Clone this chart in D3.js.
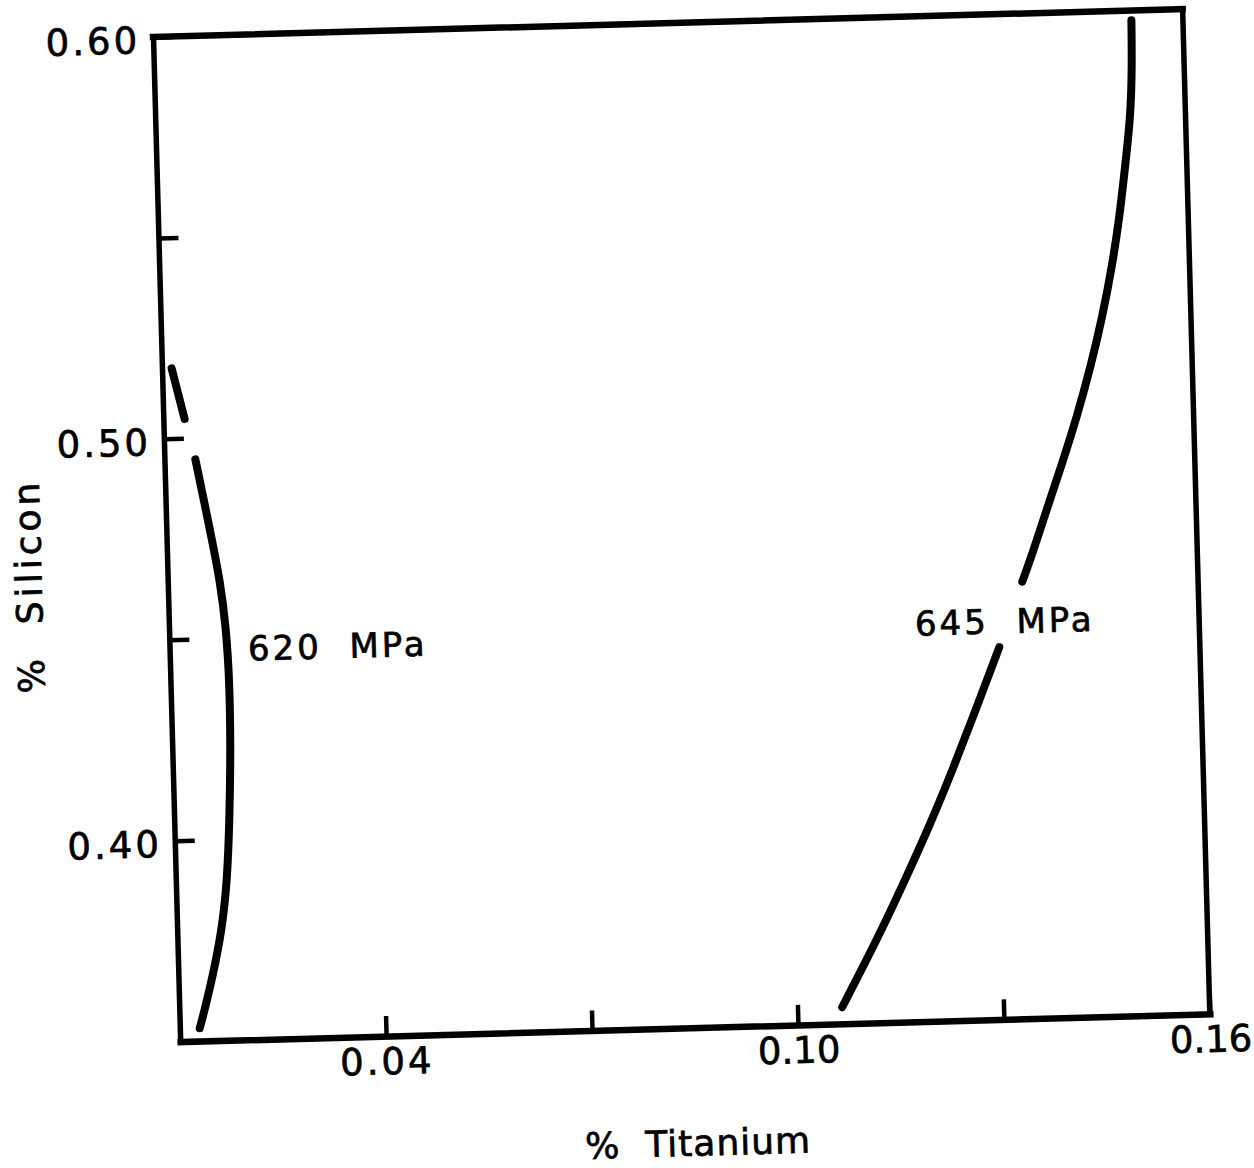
<!DOCTYPE html>
<html>
<head>
<meta charset="utf-8">
<script src="https://cdn.jsdelivr.net/npm/d3@7"></script>
<style>
  body { margin: 0; background: #fff; }
  text { font-family: "DejaVu Sans", sans-serif; fill: #000; stroke: #000; stroke-width: 0.7px; }
</style>
</head>
<body>
<div id="chart"></div>
<script>
"use-strict";

// axis setup
const tiDomain = [0.01, 0.16];
const siDomain = [0.35, 0.60];
const tiTicks = [0.04, 0.07, 0.10, 0.13, 0.16];
const tiTickLabels = ["0.04", "", "0.10", "", "0.16"];
const siTicks = [0.40, 0.45, 0.50, 0.55, 0.60];
const siTickLabels = ["0.40", "", "0.50", "", "0.60"];

// 620 MPa curve, drawn in two pieces (broken at the 0.50 tick)  [Ti, Si]
const curve620Upper = [[0.0114, 0.5175], [0.0131, 0.5048]];
const curve620Lower = [
    [0.0145, 0.4947], [0.0155, 0.4853], [0.0166, 0.4745], [0.0176, 0.4645],
    [0.0183, 0.4528], [0.0186, 0.4395], [0.0185, 0.4229], [0.0181, 0.4064],
    [0.0175, 0.3898], [0.0165, 0.3774], [0.0151, 0.3668], [0.0138, 0.3584],
    [0.0129, 0.3532]
];

// 645 MPa curve, broken around its label
const curve645Upper = [
    [0.1525, 0.5976], [0.1524, 0.5860], [0.1520, 0.5736], [0.1510, 0.5612],
    [0.1500, 0.5488], [0.1487, 0.5364], [0.1471, 0.5240], [0.1452, 0.5117],
    [0.1430, 0.4993], [0.1405, 0.4870], [0.1382, 0.4763], [0.1360, 0.4656],
    [0.1344, 0.4587]
];
const curve645Lower = [
    [0.1308, 0.4426], [0.1273, 0.4279], [0.1237, 0.4131], [0.1201, 0.3992],
    [0.1159, 0.3844], [0.1118, 0.3705], [0.1065, 0.3541]
];

const curveLabels = ["620  MPa", "645  MPa"];
const curveLabelTi = [0.0214, 0.1186];
const curveLabelSi = [0.4443, 0.4460];

const cont = {
    width: 1254,
    height: 1168,
    left: 153,
    top: 37,
    plotW: 1030,
    plotH: 1005,
    tilt: -1.55 // the scan is slightly rotated
};

window.onload = function () {
    let svg = d3.select("#chart")
        .append("svg")
        .attr("width", cont.width)
        .attr("height", cont.height);

    svg.append("rect")
        .attr("width", cont.width)
        .attr("height", cont.height)
        .attr("fill", "#fff");

    let g = svg.append("g")
        .attr("transform", "translate(" + cont.left + "," + cont.top + ") rotate(" + cont.tilt + ")");

    let x = d3.scaleLinear().domain(tiDomain).range([0, cont.plotW]);
    let y = d3.scaleLinear().domain(siDomain).range([cont.plotH, 0]);

    // frame: top and right
    g.append("line")
        .attr("x1", x(tiDomain[0])).attr("x2", x(tiDomain[1]))
        .attr("y1", y(siDomain[1])).attr("y2", y(siDomain[1]))
        .attr("stroke", "#000").attr("stroke-width", 6.5).attr("stroke-linecap", "square");
    g.append("line")
        .attr("x1", x(tiDomain[1])).attr("x2", x(tiDomain[1]))
        .attr("y1", y(siDomain[1])).attr("y2", y(siDomain[0]))
        .attr("stroke", "#000").attr("stroke-width", 5.5).attr("stroke-linecap", "square");

    // x axis
    let xAxis = d3.axisBottom(x)
        .tickValues(tiTicks)
        .tickSize(-20)
        .tickSizeOuter(0)
        .tickPadding(12)
        .tickFormat((d, i) => tiTickLabels[i]);
    let gx = g.append("g")
        .attr("transform", "translate(0," + cont.plotH + ")")
        .call(xAxis);
    gx.select(".domain").attr("stroke-width", 6.5).attr("stroke-linecap", "square");
    gx.selectAll(".tick line").attr("stroke-width", 4.5);
    gx.selectAll(".tick text")
        .attr("font-size", 37)
        .attr("letter-spacing", (d, i) => tiTickLabels[i].includes("1") ? 0 : 3)
        .attr("font-family", "DejaVu Sans");

    // y axis
    let yAxis = d3.axisLeft(y)
        .tickValues(siTicks)
        .tickSize(-20)
        .tickSizeOuter(0)
        .tickPadding(13)
        .tickFormat((d, i) => siTickLabels[i]);
    let gy = g.append("g").call(yAxis);
    gy.select(".domain").attr("stroke-width", 5.5).attr("stroke-linecap", "square");
    gy.selectAll(".tick line").attr("stroke-width", 4.5);
    gy.selectAll(".tick text")
        .attr("font-size", 37)
        .attr("letter-spacing", 3)
        .attr("dy", "0.42em")
        .attr("font-family", "DejaVu Sans");

    // curves
    let line = d3.line()
        .x((d) => x(d[0]))
        .y((d) => y(d[1]))
        .curve(d3.curveBasis);

    [curve620Upper, curve620Lower, curve645Upper, curve645Lower].forEach((pts) => {
        g.append("path")
            .datum(pts)
            .attr("fill", "none")
            .attr("stroke", "#000")
            .attr("stroke-width", 8)
            .attr("stroke-linecap", "round")
            .attr("d", line);
    });

    g.selectAll(".curveLabel")
        .data(curveLabels)
        .enter()
        .append("text")
        .attr("class", "curveLabel")
        .attr("x", (d, i) => x(curveLabelTi[i]))
        .attr("y", (d, i) => y(curveLabelSi[i]))
        .attr("font-size", 34)
        .attr("letter-spacing", 3)
        .style("white-space", "pre")
        .text((d) => d);

    // axis titles
    g.append("text")
        .attr("x", x((tiDomain[0] + tiDomain[1]) / 2))
        .attr("y", cont.plotH + 128)
        .attr("text-anchor", "middle")
        .attr("font-size", 36)
        .attr("letter-spacing", 1)
        .style("white-space", "pre")
        .text("%  Titanium");

    g.append("text")
        .attr("transform", "translate(-126," + (cont.plotH / 2 + 43) + ") rotate(-90)")
        .attr("text-anchor", "middle")
        .attr("font-size", 36)
        .attr("letter-spacing", 4)
        .style("white-space", "pre")
        .text("%  Silicon");
}
</script>
</body>
</html>
